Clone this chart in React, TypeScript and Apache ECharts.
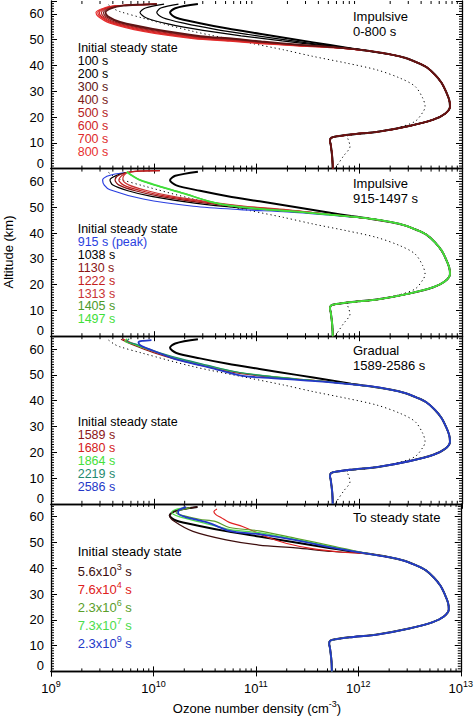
import { useEffect, useRef } from 'react';
import * as echarts from 'echarts';

type Pt = [number, number]; // [ozone density (cm^-3), altitude (km)]

// ---------------- data ----------------
const LOWER_PROFILE: Pt[] = [
  [1.26e12, 45.6], [2.0e12, 44.3], [2.82e12, 42.9], [3.63e12, 41.2], [4.53e12, 39.3],
  [5.46e12, 36.4], [6.34e12, 33.2], [6.98e12, 29.9], [7.5e12, 26.7], [7.64e12, 24.1],
  [6.84e12, 21.3], [5.26e12, 19.0], [3.12e12, 16.6], [1.58e12, 14.4], [8.13e11, 13.2],
  [6.03e11, 12.5], [5.31e11, 11.9], [5.19e11, 10.6], [5.27e11, 9.4], [5.37e11, 7.0],
  [5.47e11, 4.0], [5.52e11, 0],
];

const DOTTED_PROFILE: Pt[] = [
  [3.63e9, 63.5], [4.17e9, 61.8], [4.68e9, 60.9], [7.94e9, 58.3], [2.43e10, 53.2],
  [8.65e10, 48.7], [1.82e11, 46.1], [3.57e11, 43.5], [7.55e11, 40.9], [1.48e12, 38.3],
  [2.49e12, 35.1], [3.49e12, 31.9], [4.14e12, 27.4], [4.37e12, 24.1], [4.21e12, 22.2],
  [3.49e12, 18.3], [2.31e12, 15.8], [1.27e12, 13.8], [7.55e11, 12.5], [7.82e11, 11.2],
  [8.13e11, 8.6], [7.0e11, 4.8], [5.81e11, 0],
];

const INITIAL_UPPER: Pt[] = [
  [2.69e10, 63.8], [1.62e10, 62.2], [1.44e10, 60.5], [1.66e10, 58.5], [2.82e10, 56.4],
  [5.25e10, 54.3], [1.07e11, 52.3], [2.45e11, 50.0], [5.19e11, 47.9], [8.32e11, 46.6],
];

// Panel 1: impulsive 0-800 s
const P1_100S: Pt[] = [
  [1.74e10, 63.8], [1.17e10, 62.3], [1.07e10, 60.5], [1.23e10, 58.5], [2.0e10, 56.3],
  [3.98e10, 54.0], [8.32e10, 52.0], [2.0e11, 49.8], [4.79e11, 47.8], [8.32e11, 46.6],
];
const P1_200S: Pt[] = [
  [1.26e10, 63.8], [8.32e9, 62.3], [7.35e9, 60.5], [8.51e9, 58.4], [1.41e10, 56.0],
  [3.02e10, 53.6], [7.08e10, 51.5], [1.78e11, 49.5], [4.47e11, 47.7], [8.32e11, 46.6],
];
const P1_300S: Pt[] = [
  [1.07e10, 63.8], [7.3e9, 63.6], [5.05e9, 63.2], [3.9e9, 62.2], [3.39e9, 60.5], [3.6e9, 59.0],
  [4.7e9, 56.9], [9.8e9, 54.2], [2.85e10, 51.4], [6.0e10, 50.4], [1.12e11, 49.3], [2.58e11, 48.1], [5.62e11, 47.1],
];
const P1_400S: Pt[] = [
  [1.07e10, 63.8], [7.2e9, 63.6], [4.9e9, 63.2], [3.75e9, 62.2], [3.24e9, 60.5], [3.42e9, 59.0],
  [4.45e9, 56.8], [9.3e9, 54.0], [2.75e10, 51.2], [5.9e10, 50.2], [1.11e11, 49.1], [2.56e11, 48.0], [5.62e11, 47.1],
];
const P1_500S: Pt[] = [
  [1.07e10, 63.8], [7.1e9, 63.6], [4.75e9, 63.2], [3.6e9, 62.2], [3.09e9, 60.5], [3.25e9, 59.0],
  [4.25e9, 56.7], [8.9e9, 53.8], [2.66e10, 51.0], [5.8e10, 50.0], [1.1e11, 49.0], [2.55e11, 47.9], [5.62e11, 47.0],
];
const P1_600S: Pt[] = [
  [1.07e10, 63.8], [7.0e9, 63.6], [4.6e9, 63.2], [3.45e9, 62.2], [2.95e9, 60.5], [3.1e9, 59.0],
  [4.05e9, 56.6], [8.5e9, 53.6], [2.58e10, 50.8], [5.7e10, 49.8], [1.09e11, 48.8], [2.53e11, 47.8], [5.62e11, 47.0],
];
const P1_700S: Pt[] = [
  [1.07e10, 63.8], [6.9e9, 63.6], [4.5e9, 63.2], [3.35e9, 62.2], [2.85e9, 60.5], [3.0e9, 59.0],
  [3.9e9, 56.5], [8.2e9, 53.4], [2.5e10, 50.6], [5.6e10, 49.6], [1.08e11, 48.7], [2.52e11, 47.7], [5.62e11, 46.9],
];
const P1_800S: Pt[] = [
  [1.07e10, 63.8], [6.76e9, 63.6], [4.37e9, 63.2], [3.24e9, 62.2], [2.74e9, 60.5], [2.88e9, 59.0],
  [3.75e9, 56.4], [7.91e9, 53.2], [2.43e10, 50.4], [5.52e10, 49.4], [1.07e11, 48.5], [2.51e11, 47.6], [5.62e11, 46.9],
];

// Panel 2: impulsive 915-1497 s
const P2_915S: Pt[] = [
  [5.25e9, 63.4], [4.2e9, 62.9], [3.5e9, 62.0], [3.18e9, 60.5], [3.3e9, 58.6], [3.75e9, 56.8],
  [7.9e9, 53.2], [2.43e10, 50.4], [6.9e10, 49.1], [2.0e11, 48.2], [5.0e11, 47.0],
];
const P2_1038S: Pt[] = [
  [5.4e9, 63.5], [4.5e9, 62.6], [3.75e9, 60.6], [4.0e9, 58.6], [5.6e9, 56.4], [9.5e9, 54.2],
  [2.5e10, 51.6], [6.9e10, 49.8], [2.0e11, 48.6], [5.0e11, 47.2],
];
const P2_1130S: Pt[] = [
  [1.15e10, 64.2], [7.1e9, 64.0], [5.25e9, 63.3], [4.4e9, 62.0], [4.2e9, 60.6], [4.6e9, 58.6],
  [6.6e9, 56.4], [1.15e10, 54.2], [2.9e10, 51.8], [7.2e10, 50.1], [2.0e11, 48.8], [5.0e11, 47.3],
];
const P2_1222S: Pt[] = [
  [1.15e10, 64.2], [7.1e9, 64.0], [5.4e9, 63.4], [4.8e9, 62.0], [4.57e9, 60.6], [5.1e9, 58.6],
  [7.4e9, 56.5], [1.3e10, 54.3], [3.2e10, 52.0], [7.5e10, 50.3], [2.0e11, 48.9], [5.0e11, 47.3],
];
const P2_1313S: Pt[] = [
  [5.5e9, 63.6], [5.1e9, 62.2], [5.0e9, 60.8], [5.7e9, 58.7], [8.3e9, 56.6], [1.45e10, 54.4],
  [3.4e10, 52.1], [7.8e10, 50.4], [2.0e11, 49.0], [5.0e11, 47.3],
];
const P2_1405S: Pt[] = [
  [5.46e9, 63.7], [6.3e9, 62.0], [7.6e9, 60.3], [1.15e10, 58.0], [2.0e10, 55.3], [3.52e10, 52.2],
  [5.52e10, 50.5], [1.07e11, 49.3], [2.5e11, 48.2], [5.0e11, 47.2],
];
const P2_1497S: Pt[] = [
  [5.46e9, 63.8], [6.2e9, 62.2], [7.4e9, 60.5], [1.12e10, 58.2], [1.95e10, 55.4], [3.45e10, 52.3],
  [5.5e10, 50.6], [1.07e11, 49.4], [2.5e11, 48.3], [5.0e11, 47.2],
];

// Panel 3: gradual 1589-2586 s
const P3_1589S: Pt[] = [
  [4.8e9, 63.8], [5.6e9, 62.5], [7.1e9, 60.8], [1.0e10, 58.6], [1.58e10, 56.2], [2.8e10, 53.8],
  [5.5e10, 51.2], [1.07e11, 49.6], [2.5e11, 48.3], [5.0e11, 47.3],
];
const P3_1680S: Pt[] = [
  [5.0e9, 63.9], [5.9e9, 62.6], [7.4e9, 60.9], [1.05e10, 58.7], [1.66e10, 56.3], [2.95e10, 53.9],
  [5.75e10, 51.3], [1.12e11, 49.7], [2.5e11, 48.4], [5.0e11, 47.3],
];
const P3_1864S: Pt[] = [
  [5.5e9, 64.0], [5.25e9, 63.0], [6.3e9, 62.0], [7.9e9, 60.5], [1.12e10, 58.5], [1.78e10, 56.2],
  [3.16e10, 53.8], [6.0e10, 51.3], [1.12e11, 49.8], [2.5e11, 48.4], [5.0e11, 47.3],
];
const P3_2219S: Pt[] = [
  [5.75e9, 64.0], [5.5e9, 63.0], [6.6e9, 62.0], [8.3e9, 60.5], [1.17e10, 58.5], [1.86e10, 56.2],
  [3.3e10, 53.8], [6.3e10, 51.2], [1.15e11, 49.7], [2.5e11, 48.3], [5.0e11, 47.3],
];
const P3_2586S: Pt[] = [
  [9.5e9, 63.5], [7.9e9, 63.2], [7.1e9, 62.7], [7.4e9, 61.5], [9.1e9, 59.9], [1.66e10, 56.0],
  [3.52e10, 52.8], [6.9e10, 49.8], [1.07e11, 49.0], [2.5e11, 48.1], [5.0e11, 47.2],
];

// Panel 4: to steady state
const P4_5P6E3S: Pt[] = [
  [2.69e10, 63.8], [1.62e10, 62.2], [1.44e10, 60.5], [1.61e10, 58.1], [2.43e10, 54.3],
  [5.13e10, 51.0], [1.07e11, 49.0], [2.45e11, 47.9], [5.62e11, 46.5],
];
const P4_7P6E4S: Pt[] = [
  [4.17e10, 63.0], [3.89e10, 62.0], [4.07e10, 60.8], [4.6e10, 59.6], [5.5e10, 57.8], [7.4e10, 56.2],
  [1.0e11, 54.0], [1.26e11, 52.2], [2.0e11, 49.6], [3.55e11, 47.6], [7.08e11, 46.2],
];
const P4_2P3E6S: Pt[] = [
  [2.29e10, 63.5], [1.82e10, 62.5], [1.66e10, 61.5], [2.0e10, 60.3], [2.82e10, 59.0], [4.07e10, 58.1],
  [5.52e10, 55.8], [1.07e11, 54.5], [2.45e11, 51.6], [5.62e11, 48.6],
];
const P4_7P3E7S: Pt[] = [
  [2.0e10, 63.5], [1.58e10, 62.5], [1.51e10, 61.5], [1.78e10, 60.0], [2.82e10, 58.0],
  [5.62e10, 55.0], [1.07e11, 53.8], [2.45e11, 51.2], [5.62e11, 48.2],
];
const P4_2P3E9S: Pt[] = [
  [2.09e10, 63.7], [1.78e10, 62.6], [1.74e10, 61.4], [2.0e10, 60.0], [3.52e10, 57.5],
  [5.52e10, 54.5], [1.07e11, 53.2], [2.45e11, 50.9], [5.62e11, 48.0],
];

const X_MINOR_TICKS = [
  2e9, 3e9, 4e9, 5e9, 6e9, 7e9, 8e9, 9e9,
  2e10, 3e10, 4e10, 5e10, 6e10, 7e10, 8e10, 9e10,
  2e11, 3e11, 4e11, 5e11, 6e11, 7e11, 8e11, 9e11,
  2e12, 3e12, 4e12, 5e12, 6e12, 7e12, 8e12, 9e12,
];
const Y_MINOR_TICKS = [
  1, 2, 3, 4, 5, 6, 7, 8, 9, 11, 12, 13, 14, 15, 16, 17, 18, 19,
  21, 22, 23, 24, 25, 26, 27, 28, 29, 31, 32, 33, 34, 35, 36, 37, 38, 39,
  41, 42, 43, 44, 45, 46, 47, 48, 49, 51, 52, 53, 54, 55, 56, 57, 58, 59,
  61, 62, 63, 64,
];

type Curve = { label: string; sup?: string; color: string; upper: Pt[] };
type Panel = { title: string[]; dotted: boolean; curves: Curve[] };

const PANELS: Panel[] = [
  {
    title: ['Impulsive', '0-800 s'],
    dotted: true,
    curves: [
      { label: '100 s', color: '#000000', upper: P1_100S },
      { label: '200 s', color: '#000000', upper: P1_200S },
      { label: '300 s', color: '#5e1414', upper: P1_300S },
      { label: '400 s', color: '#7c1a1a', upper: P1_400S },
      { label: '500 s', color: '#b42222', upper: P1_500S },
      { label: '600 s', color: '#d02626', upper: P1_600S },
      { label: '700 s', color: '#de2a2a', upper: P1_700S },
      { label: '800 s', color: '#e83030', upper: P1_800S },
    ],
  },
  {
    title: ['Impulsive', '915-1497 s'],
    dotted: true,
    curves: [
      { label: '915 s (peak)', color: '#2a3fe0', upper: P2_915S },
      { label: '1038 s', color: '#000000', upper: P2_1038S },
      { label: '1130 s', color: '#8b1515', upper: P2_1130S },
      { label: '1222 s', color: '#c41e1e', upper: P2_1222S },
      { label: '1313 s', color: '#c83434', upper: P2_1313S },
      { label: '1405 s', color: '#4c9a2a', upper: P2_1405S },
      { label: '1497 s', color: '#3fe03a', upper: P2_1497S },
    ],
  },
  {
    title: ['Gradual', '1589-2586 s'],
    dotted: true,
    curves: [
      { label: '1589 s', color: '#8b1515', upper: P3_1589S },
      { label: '1680 s', color: '#d42020', upper: P3_1680S },
      { label: '1864 s', color: '#44e03a', upper: P3_1864S },
      { label: '2219 s', color: '#1f8a6f', upper: P3_2219S },
      { label: '2586 s', color: '#2438c8', upper: P3_2586S },
    ],
  },
  {
    title: ['To steady state'],
    dotted: false,
    curves: [
      { label: '5.6x10', sup: '3', color: '#3d0d0d', upper: P4_5P6E3S },
      { label: '7.6x10', sup: '4', color: '#e02020', upper: P4_7P6E4S },
      { label: '2.3x10', sup: '6', color: '#5a9e2a', upper: P4_2P3E6S },
      { label: '7.3x10', sup: '7', color: '#4cdc4c', upper: P4_7P3E7S },
      { label: '2.3x10', sup: '9', color: '#2238c8', upper: P4_2P3E9S },
    ],
  },
];

// ---------------- layout ----------------
const FONT = "'Liberation Sans', Arial, Helvetica, sans-serif";
const GRID_LEFT = 51;
const GRID_WIDTH = 411;
const GRID_H = 167.6;
const GRID_TOP0 = 1;
const X_MIN = 1e9;
const X_MAX = 1e13;
const Y_MIN = 0;
const Y_MAX = 65;
const LEGEND_START = [48.3, 229.3, 422.3, 551.7];
const LEGEND_STEP = [12.9, 12.86, 12.9, 18];
const TITLE_Y = [16, 183.5, 350.5, 517.5];

function buildOption() {
  const grid: any[] = [];
  const xAxis: any[] = [];
  const yAxis: any[] = [];
  const series: any[] = [];
  const graphic: any[] = [];
  const axisLineStyle = { color: '#000', width: 1.3 };

  PANELS.forEach((panel, i) => {
    const top = GRID_TOP0 + i * GRID_H;
    grid.push({ left: GRID_LEFT, width: GRID_WIDTH, top, height: GRID_H, containLabel: false });
    const isLast = i === PANELS.length - 1;
    const xBase = {
      type: 'log', logBase: 10, min: X_MIN, max: X_MAX, gridIndex: i, splitNumber: 4,
      axisLine: { show: true, lineStyle: axisLineStyle },
      axisTick: { show: true, inside: true, length: 5, lineStyle: { color: '#000', width: 1 } },
      splitLine: { show: false },
    };
    xAxis.push({
      ...xBase, position: 'bottom',
      axisLabel: {
        show: isLast, margin: 8, color: '#000', fontFamily: FONT,
        formatter: (v: number) => `{b|10}{s|${Math.round(Math.log10(v))}}`,
        rich: {
          b: { fontSize: 13, fontFamily: FONT, color: '#000', lineHeight: 16, verticalAlign: 'bottom' },
          s: { fontSize: 9, fontFamily: FONT, color: '#000', lineHeight: 16, verticalAlign: 'top' },
        },
      },
    });
    xAxis.push({ ...xBase, position: 'top', axisLabel: { show: false } });
    const yBase = {
      type: 'value', min: Y_MIN, max: Y_MAX, interval: 10, gridIndex: i,
      axisLine: { show: true, lineStyle: axisLineStyle },
      axisTick: { show: true, inside: true, length: 6, lineStyle: { color: '#000', width: 1 } },
      splitLine: { show: false },
    };
    yAxis.push({
      ...yBase, position: 'left',
      axisLabel: {
        show: true, margin: 7, color: '#000', fontSize: 13, fontFamily: FONT,
        formatter: (v: number) => (v === 0 ? '{z|0}' : v % 10 === 0 ? String(v) : ''),
        rich: { z: { fontSize: 13, fontFamily: FONT, color: '#000', padding: [0, 0, 11, 0] } },
      },
    });
    yAxis.push({ ...yBase, position: 'right', axisLabel: { show: false } });

    const xi = i * 2;
    const lineCommon = {
      type: 'line', xAxisIndex: xi, yAxisIndex: xi, showSymbol: false, symbol: 'none',
      smooth: 0.3, animation: false, silent: true,
    };
    if (panel.dotted) {
      series.push({
        ...lineCommon, name: `dotted-${i}`, data: DOTTED_PROFILE,
        lineStyle: { color: '#000', width: 1, type: [1.2, 3] },
      });
    }
    series.push({
      ...lineCommon, name: `initial-${i}`, data: [...INITIAL_UPPER, ...LOWER_PROFILE],
      lineStyle: { color: '#000', width: 2 },
    });
    const order = i === 0 ? [...panel.curves].reverse().filter((c) => c.color !== '#000000')
      : panel.curves;
    const blacks = i === 0 ? panel.curves.filter((c) => c.color === '#000000') : [];
    [...blacks, ...order].forEach((c, k, arr) => {
      series.push({
        ...lineCommon, name: `${c.label}-${i}-${k}`, data: [...c.upper, ...LOWER_PROFILE],
        lineStyle: { color: c.color, width: k === arr.length - 1 ? 1.8 : 1.2 },
      });
    });
    // minor ticks
    series.push({
      type: 'custom', xAxisIndex: xi, yAxisIndex: xi, silent: true, clip: false, animation: false,
      data: X_MINOR_TICKS.map((v) => [v, Y_MIN]),
      encode: { x: 0, y: 1 },
      renderItem: (_p: any, api: any) => {
        const v = api.value(0);
        const b = api.coord([v, Y_MIN]);
        const t = api.coord([v, Y_MAX]);
        const st = { stroke: '#000', lineWidth: 1 };
        return {
          type: 'group', children: [
            { type: 'line', shape: { x1: b[0], y1: b[1], x2: b[0], y2: b[1] - 3 }, style: st },
            { type: 'line', shape: { x1: t[0], y1: t[1], x2: t[0], y2: t[1] + 3 }, style: st },
          ],
        };
      },
    });
    series.push({
      type: 'custom', xAxisIndex: xi, yAxisIndex: xi, silent: true, clip: false, animation: false,
      data: Y_MINOR_TICKS.map((v) => [X_MIN, v]),
      encode: { x: 0, y: 1 },
      renderItem: (_p: any, api: any) => {
        const v = api.value(1);
        const l = api.coord([X_MIN, v]);
        const r = api.coord([X_MAX, v]);
        const st = { stroke: '#000', lineWidth: 1 };
        return {
          type: 'group', children: [
            { type: 'line', shape: { x1: l[0], y1: l[1], x2: l[0] + 3, y2: l[1] }, style: st },
            { type: 'line', shape: { x1: r[0], y1: r[1], x2: r[0] - 3, y2: r[1] }, style: st },
          ],
        };
      },
    });

    // title
    panel.title.forEach((t, k) => {
      graphic.push({
        type: 'text', x: 353, y: TITLE_Y[i] + k * 15, silent: true,
        style: { text: t, fill: '#000', fontSize: 13, fontFamily: FONT, verticalAlign: 'middle', align: 'left' },
      });
    });
    // legend
    const items = [{ label: 'Initial steady state', color: '#000000', sup: undefined as string | undefined }, ...panel.curves];
    items.forEach((c, k) => {
      const y = k === 0 ? LEGEND_START[i] : LEGEND_START[i] + (i === 3 ? 18.3 + (k - 1) * LEGEND_STEP[i] : k * LEGEND_STEP[i]);
      if (c.sup) {
        graphic.push({
          type: 'text', x: 77.7, y, silent: true,
          style: {
            text: `{a|${c.label}}{s|${c.sup}}{a| s}`, fill: c.color, fontSize: 13, fontFamily: FONT,
            verticalAlign: 'middle', align: 'left',
            rich: {
              a: { fontSize: 13, fontFamily: FONT, fill: c.color, color: c.color, lineHeight: 15, verticalAlign: 'bottom' },
              s: { fontSize: 9, fontFamily: FONT, fill: c.color, color: c.color, lineHeight: 15, verticalAlign: 'top' },
            },
          },
        });
      } else {
        graphic.push({
          type: 'text', x: 77.7, y, silent: true,
          style: {
            text: c.label, fill: c.color, fontSize: i === 3 ? 13 : 12.5, lineHeight: 12, fontFamily: FONT,
            verticalAlign: 'middle', align: 'left',
          },
        });
      }
    });
  });

  graphic.push({
    type: 'text', x: 257, y: 707, silent: true,
    style: {
      text: '{a|Ozone number density (cm}{s|-3}{a|)}', fill: '#000', fontSize: 13, fontFamily: FONT,
      align: 'center', verticalAlign: 'middle',
      rich: {
        a: { fontSize: 13, fontFamily: FONT, fill: '#000', color: '#000', lineHeight: 15, verticalAlign: 'bottom' },
        s: { fontSize: 9, fontFamily: FONT, fill: '#000', color: '#000', lineHeight: 15, verticalAlign: 'top' },
      },
    },
  });
  graphic.push({
    type: 'text', x: 8, y: 252, rotation: Math.PI / 2, silent: true,
    style: { text: 'Altitude (km)', fill: '#000', fontSize: 13, fontFamily: FONT, align: 'center', verticalAlign: 'middle' },
  });

  return { animation: false, backgroundColor: '#fff', grid, xAxis, yAxis, series, graphic };
}

export default function App() {
  const ref = useRef<HTMLDivElement>(null);
  useEffect(() => {
    if (!ref.current) return;
    const chart = echarts.init(ref.current, undefined, { renderer: 'svg' });
    chart.setOption(buildOption() as any);
    return () => chart.dispose();
  }, []);
  return (
    <div
      ref={ref}
      style={{ position: 'fixed', left: 0, top: 0, width: 476, height: 717, background: '#fff' }}
    />
  );
}
